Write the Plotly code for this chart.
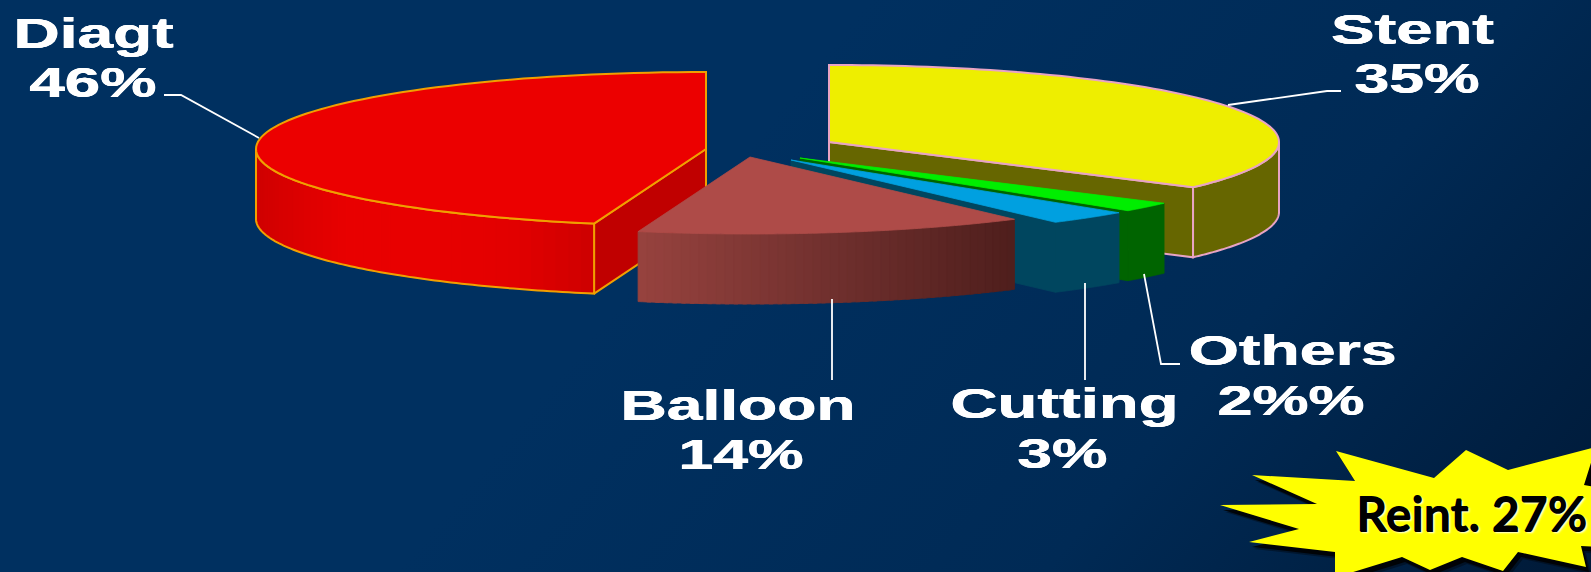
import base64
import json
import math

import plotly.graph_objects as go

# Procedure shares, clockwise from twelve o'clock
categories = ["Stent", "Others", "Cutting", "Balloon", "Diagt"]
shares = [35, 2, 3, 14, 46]
share_labels = ["35%", "2%%", "3%", "14%", "46%"]
callout_text = "Reint. 27%"

W, H = 1591, 572
RX, RY, DEPTH = 450, 77, 70

# Exploded wedge centres and colours
styles = {
    "Stent": dict(centre=(829, 142), top="#EEEE00", side=[(102, 102, 0)], wall="#666600", edge="#E8A4C4"),
    "Others": dict(centre=(800, 158), top="#00EE00", side=[(0, 100, 0)], wall="#006400", edge=None),
    "Cutting": dict(centre=(791, 160), top="#00A0E0", side=[(0, 70, 95)], wall="#00465F", edge=None),
    "Balloon": dict(centre=(750, 157), top="#AE4B48",
                    side=[(150, 66, 62), (112, 48, 46), (78, 30, 28)], wall="#7A3432", edge=None),
    "Diagt": dict(centre=(706, 149), top="#EC0000",
                  side=[(208, 0, 0), (232, 0, 0), (232, 0, 0), (226, 0, 0), (204, 0, 0)],
                  wall="#C00000", edge="#F0A000"),
}
paint_order = ["Diagt", "Stent", "Others", "Cutting", "Balloon"]

# Label placement: text, centre x, baseline y, stretched width
label_layout = {
    "Diagt": ((93, 48, 160), (93, 97, 127)),
    "Stent": ((1412, 44, 163), (1417, 93, 125)),
    "Balloon": ((738, 420, 235), (741, 469, 125)),
    "Cutting": ((1064, 418, 228), (1062, 468, 90)),
    "Others": ((1292, 365, 208), (1291, 415, 147)),
}
leaders = [
    [(164, 95), (181, 95), (259, 138)],
    [(1228, 105), (1327, 91), (1341, 91)],
    [(832, 299), (832, 380)],
    [(1085, 283), (1085, 380)],
    [(1144, 274), (1161, 364), (1180, 364)],
]

# Starburst outline behind the callout
burst = [
    (1336, 451), (1434, 478), (1466, 450), (1508, 470), (1596, 447), (1584, 485),
    (1600, 488), (1600, 547), (1581, 546), (1586, 567), (1518, 552), (1503, 571),
    (1462, 557), (1430, 570), (1402, 557), (1350, 573), (1335, 573), (1335, 552),
    (1249, 542), (1299, 529), (1220, 505), (1317, 504), (1252, 475), (1355, 481),
]
burst_notch = [(1584, 485), (1596, 447), (1596, 490)]


def rim(centre, start, end, n=90):
    """Points on the wedge rim between two angles, in degrees."""
    cx, cy = centre
    pts = []
    for i in range(n + 1):
        a = math.radians(start + (end - start) * i / n)
        pts.append((cx + RX * math.cos(a), cy - RY * math.sin(a)))
    return pts


def blend(stops, t):
    if len(stops) == 1:
        return "rgb(%d,%d,%d)" % stops[0]
    p = t * (len(stops) - 1)
    i = min(int(p), len(stops) - 2)
    f = p - i
    c = [stops[i][k] + (stops[i + 1][k] - stops[i][k]) * f for k in range(3)]
    return "rgb(%d,%d,%d)" % tuple(round(v) for v in c)


def poly(pts, fill=None, line=None, width=2, closed=True):
    xs = [p[0] for p in pts]
    ys = [p[1] for p in pts]
    if closed:
        xs.append(xs[0])
        ys.append(ys[0])
    # An unedged fill gets a hairline of its own colour so neighbouring faces close up
    stroke = line or fill
    return go.Scatter(
        x=xs, y=ys, mode="lines", hoverinfo="skip", showlegend=False,
        fill="toself" if fill else "none", fillcolor=fill,
        line=dict(color=stroke, width=width if line else 0.8, simplify=False),
    )


def wedge_traces(name, start, end):
    s = styles[name]
    cx, cy = s["centre"]
    traces = []
    drop = lambda pts: [(x, y + DEPTH) for x, y in pts]

    # Radial wall on the cut that faces the viewer
    cut = start if name == "Diagt" else end
    p_cut = rim(s["centre"], cut, cut, 1)[0]
    if name != "Balloon":
        wall = [(cx, cy), p_cut, (p_cut[0], p_cut[1] + DEPTH), (cx, cy + DEPTH)]
        traces.append(poly(wall, s["wall"], s["edge"]))

    # Curved outer face, only the part below the horizontal axis shows
    lo, hi = max(min(start, end), -180), min(max(start, end), 0)
    front = rim(s["centre"], hi, lo)
    stops = s["side"]
    if len(stops) == 1:
        traces.append(poly(front + drop(front)[::-1], "rgb(%d,%d,%d)" % stops[0], s["edge"]))
    else:
        # Painted in thin overlapping bands to give a horizontal gradient
        ordered = sorted(front)
        bands = 44
        step = max(1, len(ordered) // bands)
        x0, x1 = ordered[0][0], ordered[-1][0]
        for i in range(0, len(ordered) - 1, step):
            seg = ordered[i: i + step + 2]
            t = (seg[0][0] - x0) / (x1 - x0)
            traces.append(poly(seg + drop(seg)[::-1], blend(stops, t)))
        if s["edge"]:
            traces.append(poly(front + drop(front)[::-1], None, s["edge"]))

    # Top face
    traces.append(poly([(cx, cy)] + rim(s["centre"], start, end), s["top"], s["edge"]))
    return traces


angles = {}
a = 90.0
for cat, share in zip(categories, shares):
    angles[cat] = (a, a - share * 3.6)
    a -= share * 3.6

fig = go.Figure()
for cat in paint_order:
    for tr in wedge_traces(cat, *angles[cat]):
        fig.add_trace(tr)

for path in leaders:
    fig.add_trace(poly(path, None, "white", 1.8, closed=False))


def svg_path(pts, dx=0, dy=0):
    return "M " + " L ".join(f"{x + dx},{y + dy}" for x, y in pts) + " Z"


shapes = [
    dict(type="path", path=svg_path(burst, 5, 7), fillcolor="rgba(0,0,0,0.35)", line_width=0, layer="above"),
    dict(type="path", path=svg_path(burst, 3, 5), fillcolor="rgba(0,0,0,0.85)", line_width=0, layer="above"),
    dict(type="path", path=svg_path(burst_notch), fillcolor="black", line_width=0, layer="above"),
    dict(type="path", path=svg_path(burst), fillcolor="#FFFF00", line_width=0, layer="above"),
]

annotations = []
stretch = []
label_font = dict(family="Liberation Sans", size=42, color="white", weight=700,
                  shadow="0.3px 0 0 white, -0.3px 0 0 white")
for cat, pct in zip(categories, share_labels):
    (x1, b1, w1), (x2, b2, w2) = label_layout[cat]
    for txt, x, base, w in ((cat, x1, b1, w1), (pct, x2, b2, w2)):
        annotations.append(dict(x=x, y=base - 15, text=txt, showarrow=False, xanchor="center",
                                yanchor="middle", font=label_font))
        stretch.append(w)

annotations.append(dict(
    x=1471, y=513, text=callout_text, showarrow=False, xanchor="center", yanchor="middle",
    font=dict(family="Lato", size=47, color="black", weight=700,
              shadow="0.6px 0.6px 0 black, 2px 2px 2px rgba(255,255,255,0.9)"),
))
stretch.append(231)

backdrop = (
    f'<svg xmlns="http://www.w3.org/2000/svg" width="{W}" height="{H}">'
    '<defs><linearGradient id="g" gradientUnits="userSpaceOnUse" x1="820" y1="60" x2="1520" y2="640">'
    '<stop offset="0" stop-color="#003060"/><stop offset="0.55" stop-color="#002A55"/>'
    '<stop offset="1" stop-color="#001A38"/></linearGradient></defs>'
    f'<rect width="{W}" height="{H}" fill="url(#g)"/></svg>'
)
backdrop_uri = "data:image/svg+xml;base64," + base64.b64encode(backdrop.encode()).decode()

fig.update_layout(
    width=W, height=H, margin=dict(l=0, r=0, t=0, b=0), showlegend=False,
    paper_bgcolor="#003060", plot_bgcolor="rgba(0,0,0,0)",
    xaxis=dict(range=[0, W], visible=False, fixedrange=True),
    yaxis=dict(range=[H, 0], visible=False, fixedrange=True),
    shapes=shapes, annotations=annotations,
    images=[dict(source=backdrop_uri, xref="x", yref="y", x=0, y=0, sizex=W, sizey=H,
                 sizing="stretch", xanchor="left", yanchor="top", layer="below")],
)

# The lettering is set extended, so each line gets its own advance width
post = (
    "var widths=" + json.dumps(stretch) + ";"
    "document.querySelectorAll('.annotation-text').forEach(function(t,i){"
    "t.setAttribute('textLength',widths[i]);t.setAttribute('lengthAdjust','spacingAndGlyphs');});"
)
fig.write_html("out.html", post_script=post, config=dict(displayModeBar=False, responsive=False))
